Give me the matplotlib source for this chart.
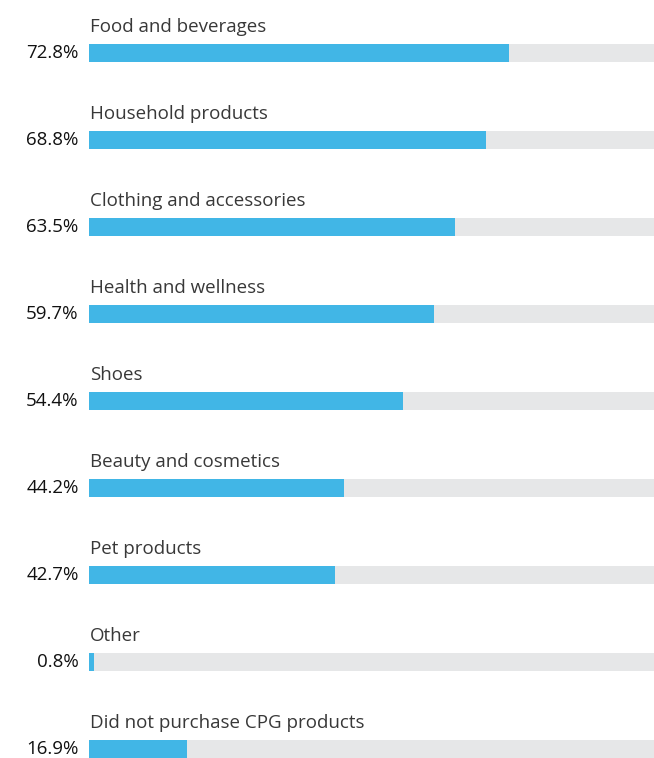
import matplotlib.pyplot as plt

# share of respondents buying each CPG category online
categories = ["Food and beverages", "Household products", "Clothing and accessories",
              "Health and wellness", "Shoes", "Beauty and cosmetics", "Pet products",
              "Other", "Did not purchase CPG products"]
shares = [72.8, 68.8, 63.5, 59.7, 54.4, 44.2, 42.7, 0.8, 16.9]

BLUE = "#41b6e6"
TRACK = "#e6e7e8"
plt.rcParams['font.family'] = ['Open Sans', 'DejaVu Sans']

fig = plt.figure(figsize=(6.54, 7.58), dpi=100)
ax = fig.add_axes([89/654, 0, 565/654, 1])

xmax = 97.9
rows = range(len(categories))
ax.barh(rows, [xmax]*len(categories), height=0.207, color=TRACK, align='center')
ax.barh(rows, shares, height=0.207, color=BLUE, align='center')

for i, (cat, val) in enumerate(zip(categories, shares)):
    ax.text(0.1, i - 0.30, cat, fontsize=13.5, color="#383838", ha='left', va='center')
    ax.text(-1.8, i, f"{val}%", fontsize=13.5, color="#111111", ha='right', va='center')

ax.set_xlim(0, xmax)
ax.set_ylim(8.103, -0.609)
ax.axis('off')

fig.savefig("out.png", dpi=100)
